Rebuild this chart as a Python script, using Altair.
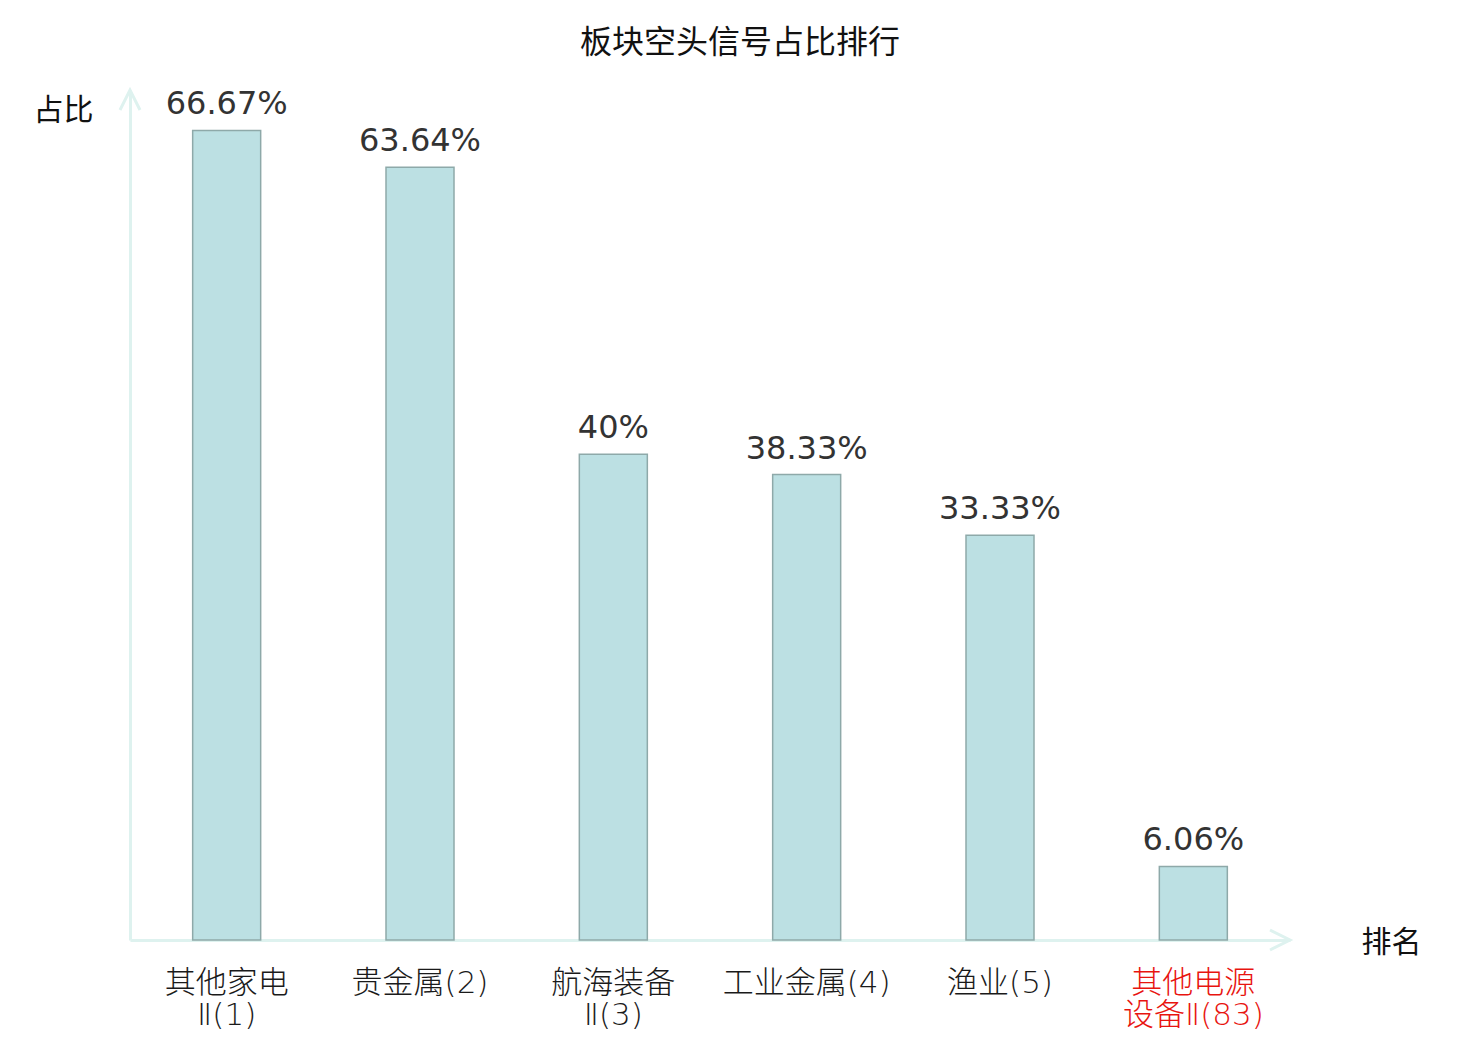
import altair as alt
import pandas as pd

categories = ["其他家电\nⅡ(1)", "贵金属(2)", "航海装备\nⅡ(3)", "工业金属(4)", "渔业(5)", "其他电源\n设备Ⅱ(83)"]
values = [66.67, 63.64, 40, 38.33, 33.33, 6.06]
value_labels = ["66.67%", "63.64%", "40%", "38.33%", "33.33%", "6.06%"]
highlight = "其他电源\\n设备Ⅱ(83)"

df = pd.DataFrame({"cat": categories, "val": values, "lab": value_labels})

AXIS_COLOR = "#def2ef"
W, H = 1160, 850
CJK = "Noto Sans CJK SC"
LABEL_FONT = "DejaVu Sans, Noto Sans CJK SC"

x_enc = alt.X(
    "cat:N",
    sort=categories,
    scale=alt.Scale(paddingInner=0.0, paddingOuter=0.0),
    axis=alt.Axis(
        title="排名",
        titleFont=CJK,
        titleFontSize=30,
        titleFontWeight="normal",
        titleColor="#111",
        titleAngle=0,
        titleAlign="center",
        titleBaseline="middle",
        titleX=1261,
        titleY=2,
        labelAngle=0,
        labelFont=LABEL_FONT,
        labelFontWeight=300,
        labelFontSize=31,
        labelLineHeight=32,
        labelPadding=28,
        labelBaseline="top",
        labelExpr="split(datum.value, '\\n')",
        labelColor=alt.condition(f"datum.value == '{highlight}'", alt.value("#e8140f"), alt.value("#1a1a1a")),
        domainColor=AXIS_COLOR,
        domainWidth=3,
        ticks=False,
        grid=False,
    ),
)

y_enc = alt.Y(
    "val:Q",
    scale=alt.Scale(domain=[0, 70], nice=False),
    axis=alt.Axis(
        title="占比",
        titleFont=CJK,
        titleFontSize=30,
        titleFontWeight="normal",
        titleColor="#111",
        titleAngle=0,
        titleAlign="center",
        titleBaseline="middle",
        titleX=-67,
        titleY=20,
        labels=False,
        ticks=False,
        grid=False,
        domainColor=AXIS_COLOR,
        domainWidth=3,
    ),
)

base = alt.Chart(df)

bars = base.mark_bar(
    width=68, fill="#bce0e3", stroke="#8ea9a9", strokeWidth=1.5
).encode(x=x_enc, y=y_enc)

texts = base.mark_text(
    font="DejaVu Sans", fontSize=32, color="#333333", baseline="alphabetic", dy=-16
).encode(x=alt.X("cat:N", sort=categories), y="val:Q", text="lab:N")

arrow_df = pd.DataFrame({"k": [0]})
arrow_up = alt.Chart(arrow_df).mark_point(
    shape="M-0.5,1L0,0L0.5,1", size=1600, filled=False, stroke=AXIS_COLOR, strokeWidth=3, opacity=1
).encode(x=alt.value(0), y=alt.value(0))
arrow_right = alt.Chart(arrow_df).mark_point(
    shape="M-1,-0.5L0,0L-1,0.5", size=1600, filled=False, stroke=AXIS_COLOR, strokeWidth=3, opacity=1
).encode(x=alt.value(W), y=alt.value(H))

chart = alt.layer(bars, texts, arrow_up, arrow_right).properties(
    width=W,
    height=H,
    background="white",
    title=alt.TitleParams(
        "板块空头信号占比排行",
        font=CJK,
        fontSize=32,
        fontWeight="normal",
        color="#111",
        anchor="middle",
        dx=30,
        offset=24,
    ),
    autosize=alt.AutoSizeParams(type="none"),
    padding={"left": 122, "top": 82, "right": 182, "bottom": 92},
).configure_view(stroke=None, strokeWidth=0)

chart.save("out.html", embed_options={"renderer": "svg", "actions": False})
